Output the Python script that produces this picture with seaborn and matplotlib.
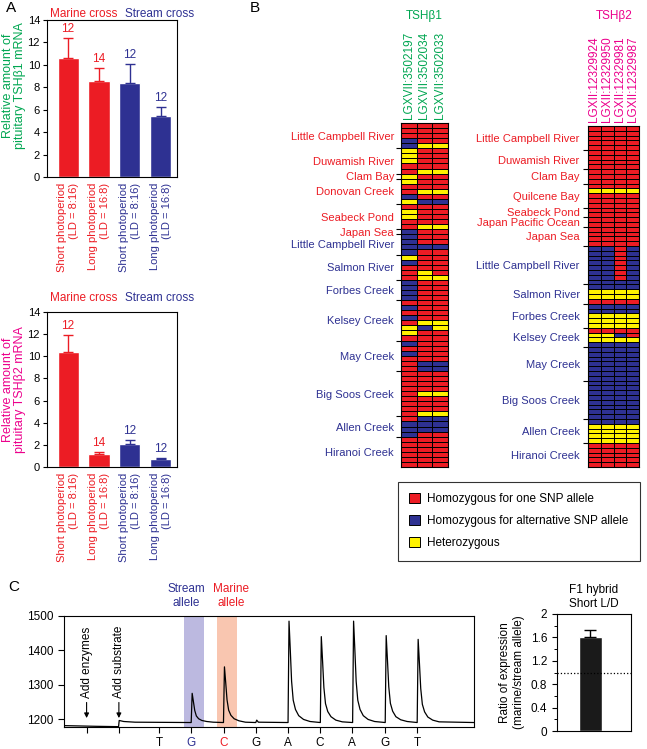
import numpy as np
import pandas as pd
import matplotlib
matplotlib.use("Agg")
import matplotlib.pyplot as plt
import seaborn as sns
from matplotlib.colors import ListedColormap
from matplotlib.patches import Patch

# ---------------- data ----------------
conditions = ["Marine short", "Marine long", "Stream short", "Stream long"]
cond_labels = ["Short photoperiod\n(LD = 8:16)", "Long photoperiod\n(LD = 16:8)",
               "Short photoperiod\n(LD = 8:16)", "Long photoperiod\n(LD = 16:8)"]
cond_cross = ["marine", "marine", "stream", "stream"]
tsh1_mean = [10.6, 8.6, 8.4, 5.4]
tsh1_err = [1.8, 1.1, 1.7, 0.85]
tsh2_mean = [10.4, 1.2, 2.1, 0.7]
tsh2_err = [1.5, 0.2, 0.35, 0.15]
sample_n = [12, 14, 12, 12]

tsh1_snps = ["LGXVII:3502197", "LGXVII:3502034", "LGXVII:3502033"]
tsh1_pops = ["Little Campbell River", "Duwamish River", "Clam Bay", "Donovan Creek",
             "Seabeck Pond", "Japan Sea", "Little Campbell River", "Salmon River",
             "Forbes Creek", "Kelsey Creek", "May Creek", "Big Soos Creek",
             "Allen Creek", "Hiranoi Creek"]
tsh1_habitat = ["marine"] * 6 + ["stream"] * 8
tsh1_genotypes = [
    ["RRR", "RRR", "RRR", "BRR", "BYY"],
    ["YRR", "YRR", "YRR", "RRR", "RYY"],
    ["YRR"],
    ["YRR", "RRR", "RYY", "BRR", "YBB"],
    ["RRR", "YRR", "YRR", "RRR", "RYY"],
    ["BRR"],
    ["BRR", "BRR", "BBB", "BRR"],
    ["YRR", "BRR", "RRR", "RYR", "RYY"],
    ["BRR", "BRR", "BRR", "BRR"],
    ["RRR", "BRR", "RRR", "BRR", "RYY", "YBY", "YRR", "RRR"],
    ["BRR", "RRR", "BRR", "RRR", "RBB", "RBB"],
    ["RRR", "RRR", "RRR", "RRR", "RYY", "RRR", "RRR", "RRR", "RYY"],
    ["RBB", "BBB", "BBB", "BRR"],
    ["RRR", "RRR", "RRR", "RRR", "RRR", "RRR"],
]

tsh2_snps = ["LGXII:12329924", "LGXII:12329950", "LGXII:12329981", "LGXII:12329987"]
tsh2_pops = ["Little Campbell River", "Duwamish River", "Clam Bay", "Quilcene Bay",
             "Seabeck Pond", "Japan Pacific Ocean", "Japan Sea",
             "Little Campbell River", "Salmon River", "Forbes Creek", "Kelsey Creek",
             "May Creek", "Big Soos Creek", "Allen Creek", "Hiranoi Creek"]
tsh2_habitat = ["marine"] * 7 + ["stream"] * 8
tsh2_genotypes = [
    ["RRRR"] * 5,
    ["RRRR"] * 4,
    ["RRRR"] * 3,
    ["RRRR", "YYYY", "RRRR", "RRRR", "RRRR"],
    ["RRRR"] * 2,
    ["RRRR"] * 2,
    ["RRRR"] * 4,
    ["BBRB"] * 7 + ["BBBB"],
    ["BBBB", "YYYY", "YYYY", "RRRR"],
    ["BBBB", "BBBB", "YYYY", "YYYY", "YYYY"],
    ["RRRR", "YYBR", "YYYY", "BBBB"],
    ["BBBB"] * 7,
    ["BBBB"] * 8,
    ["BBBB", "YYYY", "YYYY", "YYYY", "YYYY"],
    ["RRRR"] * 5,
]
legend_labels = ["Homozygous for one SNP allele",
                 "Homozygous for alternative SNP allele",
                 "Heterozygous"]

disp_pos = [0.70, 1.70, 2.94, 3.93, 4.95, 5.94, 6.93, 7.93, 8.92, 9.94, 10.93]
disp_labels = ["", "", "T", "G", "C", "G", "A", "C", "A", "G", "T"]
trace_x = [
    0.00, 1.00, 1.69, 1.71, 1.85, 2.20, 3.94,
    3.97, 4.01, 4.05, 4.10, 4.17, 4.27, 4.42, 4.62,
    4.94, 4.97, 5.01, 5.05, 5.10, 5.17, 5.27, 5.42, 5.62,
    5.94, 5.97, 6.02,
    6.94, 6.97, 7.01, 7.05, 7.10, 7.17, 7.27, 7.42, 7.62,
    7.94, 7.97, 8.01, 8.05, 8.10, 8.17, 8.27, 8.42, 8.62,
    8.94, 8.97, 9.01, 9.05, 9.10, 9.17, 9.27, 9.42, 9.62,
    9.95, 9.98, 10.02, 10.06, 10.11, 10.18, 10.28, 10.43, 10.63,
    10.94, 10.97, 11.01, 11.05, 11.10, 11.17, 11.27, 11.42, 11.62,
    12.70]
trace_y = [
    1181, 1179, 1178, 1196, 1193, 1191, 1190,
    1275, 1250, 1225, 1209, 1201, 1196, 1193, 1191,
    1190, 1352, 1305, 1256, 1226, 1211, 1201, 1195, 1191,
    1190, 1197, 1191,
    1190, 1485, 1400, 1310, 1255, 1228, 1210, 1199, 1193,
    1190, 1440, 1368, 1292, 1245, 1222, 1207, 1197, 1192,
    1190, 1485, 1400, 1310, 1255, 1228, 1210, 1199, 1193,
    1190, 1443, 1370, 1294, 1246, 1223, 1207, 1198, 1193,
    1190, 1432, 1362, 1289, 1243, 1221, 1206, 1197, 1192,
    1190]

ratio_mean = 1.6
ratio_err = 0.13

# ---------------- style ----------------
RED = "#ec1c24"
BLUE = "#2e3192"
YELLOW = "#fff200"
GREEN = "#00a651"
MAGENTA = "#ec008c"

sns.set_theme(style="ticks")
plt.rcParams["font.family"] = ["Liberation Sans", "DejaVu Sans"]
plt.rcParams.update({
    "axes.edgecolor": "black", "axes.linewidth": 0.8,
    "text.color": "black", "axes.labelcolor": "black",
    "xtick.color": "black", "ytick.color": "black",
    "xtick.labelsize": 8, "ytick.labelsize": 8,
    "xtick.major.width": 0.8, "ytick.major.width": 0.8,
})

W, H = 647, 749
fig = plt.figure(figsize=(W / 100, H / 100), dpi=100)


def rect(l, t, r, b):
    return [l / W, 1 - b / H, (r - l) / W, (b - t) / H]


def fx(x):
    return x / W


def fy(y):
    return 1 - y / H


cross_color = {"marine": RED, "stream": BLUE}
bar_colors = [cross_color[c] for c in cond_cross]


def bar_panel(ax, means, errs, ylabel, ycolor, ylab_y):
    df = pd.DataFrame({"condition": conditions, "value": means})
    sns.barplot(data=df, x="condition", y="value", hue="condition",
                palette=bar_colors, legend=False, width=0.68,
                errorbar=None, saturation=1, ax=ax)
    for i, (m, e) in enumerate(zip(means, errs)):
        ax.errorbar(i, m, yerr=[[0], [e]], fmt="none", ecolor=bar_colors[i],
                    elinewidth=1.0, capsize=3.5, capthick=1.0)
        ax.text(i, m + e + 0.25, str(sample_n[i]), ha="center", va="bottom",
                color=bar_colors[i], fontsize=8.5)
    ax.set_xlim(-0.68, 3.52)
    ax.set_ylim(0, 14)
    ax.set_yticks(range(0, 15, 2))
    ax.set_xticks(range(4))
    ax.set_xticklabels(cond_labels, rotation=90, fontsize=8)
    for lab, c in zip(ax.get_xticklabels(), bar_colors):
        lab.set_color(c)
        lab.set_multialignment("right")
    ax.tick_params(axis="x", length=0, pad=4)
    ax.tick_params(axis="y", length=3, pad=2)
    ax.set_xlabel("")
    ax.set_ylabel(ylabel, color=ycolor, fontsize=9, linespacing=1.0)
    ax.yaxis.set_label_coords(-0.16, ylab_y)
    for s in ax.spines.values():
        s.set_visible(True)
        s.set_linewidth(0.8)


ax1 = fig.add_axes(rect(47, 20, 177, 177))
bar_panel(ax1, tsh1_mean, tsh1_err, "Relative amount of\npituitary TSH\u03b21 mRNA", GREEN, 0.58)
ax2 = fig.add_axes(rect(47, 312, 177, 467))
bar_panel(ax2, tsh2_mean, tsh2_err, "Relative amount of\npituitary TSH\u03b22 mRNA", MAGENTA, 0.5)

for ytop in (14, 298):
    fig.text(fx(84), fy(ytop), "Marine cross", color=RED, fontsize=8.5, ha="center", va="center")
    fig.text(fx(160), fy(ytop), "Stream cross", color=BLUE, fontsize=8.5, ha="center", va="center")

# ---------------- heatmaps ----------------
code = {"R": 0, "B": 1, "Y": 2}
geno_cmap = ListedColormap([RED, BLUE, YELLOW])


def heat_panel(ax, pops, habitat, genos, snps, color, tick_len, pad):
    mat = np.array([[code[c] for c in row] for g in genos for row in g])
    sns.heatmap(mat, ax=ax, cmap=geno_cmap, vmin=-0.5, vmax=2.5, cbar=False,
                linewidths=0.45, linecolor="black", xticklabels=snps,
                yticklabels=False)
    sizes = [len(g) for g in genos]
    bounds = np.cumsum([0] + sizes)
    centers = (bounds[:-1] + bounds[1:]) / 2
    ax.set_yticks(bounds[1:-1])
    ax.set_yticklabels([])
    ax.set_yticks(centers, minor=True)
    ax.set_yticklabels(pops, minor=True, fontsize=8)
    for lab, hab in zip(ax.get_yticklabels(minor=True), habitat):
        lab.set_color(cross_color[hab])
    ax.tick_params(axis="y", which="major", left=True, length=tick_len,
                   width=0.8, direction="out")
    ax.tick_params(axis="y", which="minor", left=True, length=0, pad=pad)
    ax.xaxis.tick_top()
    ax.tick_params(axis="x", length=0, pad=3, labelsize=8.5,
                   labelcolor=color, labelrotation=90)
    for s in ax.spines.values():
        s.set_visible(True)
        s.set_linewidth(0.8)
        s.set_color("black")


axh1 = fig.add_axes(rect(401, 123, 448, 467))
heat_panel(axh1, tsh1_pops, tsh1_habitat, tsh1_genotypes, tsh1_snps, GREEN, 3.5, 5)
axh2 = fig.add_axes(rect(588, 126, 639, 467))
heat_panel(axh2, tsh2_pops, tsh2_habitat, tsh2_genotypes, tsh2_snps, MAGENTA, 3.5, 6)

fig.text(fx(424), fy(16), "TSH\u03b21", color=GREEN, fontsize=8.5, ha="center", va="center")
fig.text(fx(614), fy(16), "TSH\u03b22", color=MAGENTA, fontsize=8.5, ha="center", va="center")

handles = [Patch(facecolor=c, edgecolor="black", linewidth=0.7) for c in (RED, BLUE, YELLOW)]
leg = fig.legend(handles, legend_labels, loc="upper left",
                 bbox_to_anchor=(fx(398), fy(482), fx(242), 0), mode="expand",
                 frameon=True, fancybox=False, fontsize=8.5, borderpad=0.95,
                 labelspacing=0.85, handlelength=0.9, handleheight=0.9,
                 handletextpad=0.6, borderaxespad=0)
leg.get_frame().set_edgecolor("black")
leg.get_frame().set_linewidth(0.8)

# ---------------- panel C ----------------
axc = fig.add_axes(rect(64, 616, 474, 727))
axc.axvspan(3.72, 4.34, color="#bcb9e0", lw=0)
axc.axvspan(4.74, 5.36, color="#f9c6b0", lw=0)
sns.lineplot(x=trace_x, y=trace_y, ax=axc, color="black", lw=0.9,
             estimator=None, sort=False)
axc.set_xlim(0, 12.7)
axc.set_ylim(1177, 1500)
axc.set_yticks([1200, 1300, 1400, 1500])
axc.set_xticks(disp_pos)
axc.set_xticklabels(disp_labels, fontsize=8.5)
xl = axc.get_xticklabels()
xl[3].set_color(BLUE)
xl[4].set_color(RED)
axc.tick_params(axis="both", length=4, labelsize=8.5)
for s in axc.spines.values():
    s.set_visible(True)
    s.set_linewidth(0.8)
tr = axc.get_xaxis_transform()
axc.text(3.80, 1.06, "Stream\nallele", transform=tr, color=BLUE, fontsize=8.5,
         ha="center", va="bottom", linespacing=1.25)
axc.text(5.17, 1.06, "Marine\nallele", transform=tr, color=RED, fontsize=8.5,
         ha="center", va="bottom", linespacing=1.25)
for xp, txt in ((0.70, "Add enzymes"), (1.70, "Add substrate")):
    axc.annotate(txt, xy=(xp, 1203), xytext=(xp, 1262), rotation=90,
                 ha="center", va="bottom", fontsize=8.5,
                 arrowprops=dict(arrowstyle="-|>", color="black", lw=0.8,
                                 mutation_scale=7, shrinkA=1, shrinkB=0))

axr = fig.add_axes(rect(557, 614, 631, 731))
sns.barplot(x=["F1"], y=[ratio_mean], color="#1a1a1a", width=0.31,
            errorbar=None, saturation=1, ax=axr)
axr.errorbar(0, ratio_mean, yerr=[[0], [ratio_err]], fmt="none", ecolor="black",
             elinewidth=1.0, capsize=4, capthick=1.0)
axr.axhline(1.0, ls=":", color="black", lw=0.9)
axr.set_xlim(-0.45, 0.55)
axr.set_ylim(0, 2)
axr.set_yticks([0, 0.4, 0.8, 1.2, 1.6, 2.0])
axr.set_yticklabels(["0", "0.4", "0.8", "1.2", "1.6", "2"], fontsize=8.5)
axr.set_yticks(np.arange(0.2, 2.0, 0.4), minor=True)
axr.tick_params(axis="y", which="major", length=3.5)
axr.tick_params(axis="y", which="minor", length=2, width=0.7, left=True)
axr.set_xticks([])
axr.set_xlabel("")
axr.set_ylabel("Ratio of expression\n(marine/stream allele)", fontsize=8.5, labelpad=4)
axr.set_title("F1 hybrid\nShort L/D", fontsize=8.5, pad=5, linespacing=1.2)
for s in axr.spines.values():
    s.set_visible(True)
    s.set_linewidth(0.8)

# panel letters
fig.text(fx(6), fy(8), "A", fontsize=11, ha="left", va="center")
fig.text(fx(250), fy(8), "B", fontsize=11, ha="left", va="center")
fig.text(fx(8), fy(587), "C", fontsize=11, ha="left", va="center")

fig.savefig("out.png", dpi=100)
